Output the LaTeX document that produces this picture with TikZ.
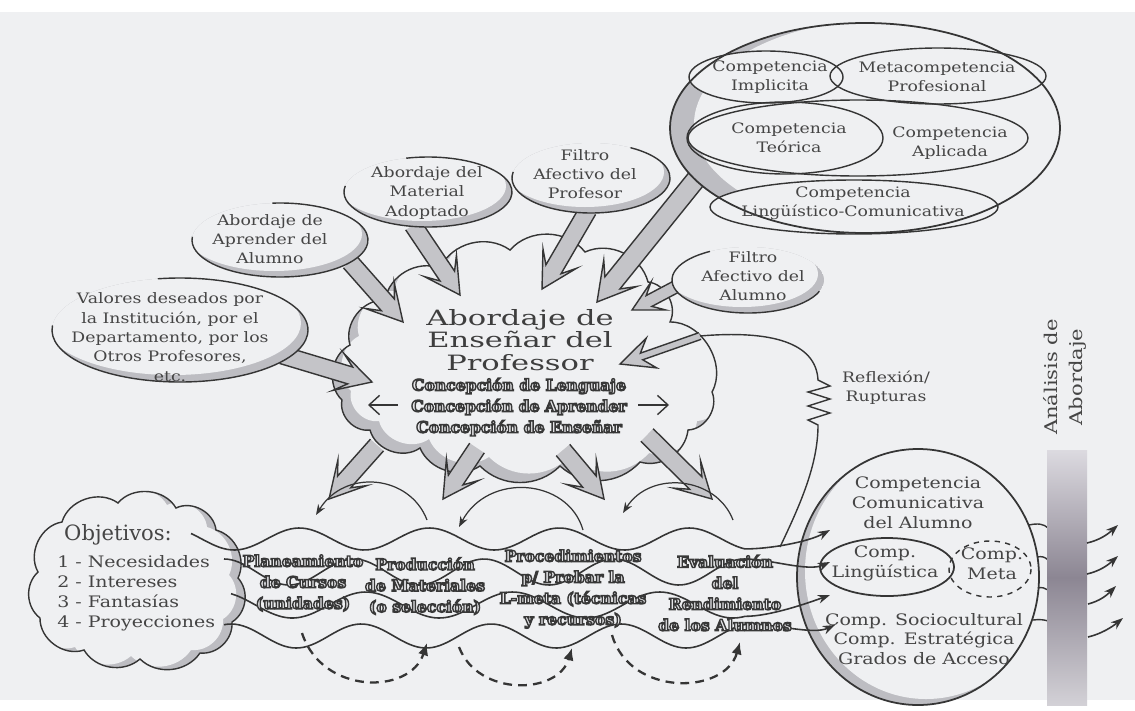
\documentclass[tikz,border=0pt]{standalone}
\usepackage{fontspec}
\setmainfont{DejaVu Serif}[FakeStretch=1.2]
\newfontfamily\titlef{DejaVu Serif}[FakeStretch=1.45]
\newfontfamily\plainf{DejaVu Serif}
\usetikzlibrary{calc,arrows.meta}
\definecolor{bgc}{HTML}{EFF0F2}
\definecolor{linec}{HTML}{353535}
\definecolor{txtc}{HTML}{454545}
\definecolor{shc}{HTML}{BDBDC2}
\definecolor{arrc}{HTML}{C4C4C8}
\definecolor{olf}{HTML}{E6E6E9}
\definecolor{barA}{HTML}{DCDAE0}
\definecolor{barB}{HTML}{8C8693}

% outlined text: fill light, stroke dark (PDF text render mode 2)
\newcommand{\otxt}[1]{{\color{olf}\special{pdf:literal direct 2 Tr 0.8 w 0.22 0.22 0.22 RG}#1\special{pdf:literal direct 0 Tr}}}

% tail, tip, shaft half width, head half width, head length, join length
\newcommand{\fatarrow}[6]{%
 \coordinate (fw) at ($(#2)!#5!(#1)$);
 \coordinate (fj) at ($(#2)!#6!(#1)$);
 \fill[arrc] ($(#1)!#3!90:(#2)$) -- ($(fj)!#3!90:(#2)$) -- ($(fw)!#4!90:(#2)$) -- (#2) -- ($(fw)!#4!-90:(#2)$) -- ($(fj)!#3!-90:(#2)$) -- ($(#1)!#3!-90:(#2)$) -- cycle;
 \draw[linec, line width=0.8pt, line join=miter] ($(#1)!#3!90:(#2)$) -- ($(fj)!#3!90:(#2)$) -- ($(fw)!#4!90:(#2)$) -- (#2) -- ($(fw)!#4!-90:(#2)$) -- ($(fj)!#3!-90:(#2)$) -- ($(#1)!#3!-90:(#2)$);
}
% center, rx, ry, shift, start, end
\newcommand{\bubble}[6]{%
 \begin{scope}
  \clip (#1) ellipse [x radius=#2, y radius=#3];
  \fill[shc] (#1) ellipse [x radius=#2, y radius=#3];
  \fill[bgc] ($(#1)+(#4)$) ellipse [x radius=#2, y radius=#3];
 \end{scope}
 \draw[linec, line width=0.8pt] ($(#1)+(#5:#2 and #3)$) arc [start angle=#5, end angle=#6, x radius=#2, y radius=#3];
}
\newcommand{\cloudA}{(342,400) to[bend left=55] (350,345) to[bend left=55] (385,300) to[bend left=50] (440,268) to[bend left=50] (510,250) to[bend left=50] (585,252) to[bend left=50] (648,282) to[bend left=55] (670,322) to[bend left=60] (712,392) to[bend left=55] (688,430) to[bend left=50] (640,462) to[bend left=45] (560,466) to[bend left=45] (480,466) to[bend left=50] (420,448) to[bend left=55] (370,430) to[bend left=55] (342,400) -- cycle}
\newcommand{\cloudB}{(38,572) to[bend left=55] (62,522) to[bend left=55] (118,503) to[bend left=55] (176,508) to[bend left=55] (216,530) to[bend left=50] (238,578) to[bend left=50] (232,622) to[bend left=50] (200,653) to[bend left=50] (140,659) to[bend left=50] (84,650) to[bend left=55] (40,618) to[bend left=50] (38,572) -- cycle}

\begin{document}
\begin{tikzpicture}[x=0.02cm,y=-0.02cm,
 line/.style={draw=linec, line width=0.8pt},
 txt/.style={font=\fontsize{8.2}{11}\selectfont, text=txtc, align=center, inner sep=0pt},
 ctxt/.style={font=\fontsize{9}{11.3}\selectfont, text=txtc, align=center, inner sep=0pt},
 otext/.style={font=\fontsize{8.9}{12}\selectfont\bfseries\plainf, align=center, inner sep=0pt},
 titletxt/.style={font=\fontsize{12}{13}\selectfont\titlef, text=txtc!90!black, align=center, inner sep=0pt},
 thinarr/.style={draw=linec, line width=0.7pt, -{Stealth[length=6pt,width=4.5pt]}},
 dasharr/.style={draw=linec, line width=1.3pt, dash pattern=on 5pt off 3.5pt, -{Latex[length=7pt,width=6pt]}},
 wavearr/.style={draw=linec, line width=0.9pt, -{Stealth[length=7pt,width=5pt]}},
 barb/.style={draw=linec, line width=0.8pt, -{Straight Barb[length=6pt,width=11pt]}}]

\useasboundingbox (0,0) rectangle (1135,710);
\fill[bgc] (0,0) rectangle (1135,710);
\fill[white] (0,0) rectangle (1135,12);
\fill[white] (0,700) rectangle (1135,710);

% ---------- central cloud ----------
\begin{scope}
 \clip \cloudA;
 \fill[shc] \cloudA;
 \begin{scope}[shift={(9,-9)}]
  \fill[bgc] \cloudA;
 \end{scope}
\end{scope}
\draw[line] \cloudA;

% ---------- arrow coordinates ----------
\coordinate (a1t) at (350,262);  \coordinate (a1p) at (403,322);
\coordinate (a2t) at (282,355);  \coordinate (a2p) at (372,382);
\coordinate (a3t) at (413,225);  \coordinate (a3p) at (460,295);
\coordinate (a4t) at (588,210);  \coordinate (a4p) at (542,289);
\coordinate (a5t) at (697,178);  \coordinate (a5p) at (597,302);
\coordinate (a6t) at (683,283);  \coordinate (a6p) at (632,310);
\coordinate (a7t) at (700,336);  \coordinate (a7p) at (620,364);

\fatarrow{a1t}{a1p}{5pt}{11pt}{20pt}{13pt}
\fatarrow{a2t}{a2p}{5pt}{11pt}{20pt}{13pt}
\fatarrow{a3t}{a3p}{5pt}{11pt}{20pt}{13pt}
\fatarrow{a4t}{a4p}{5pt}{11pt}{20pt}{13pt}
\fatarrow{a5t}{a5p}{5.5pt}{12pt}{21pt}{14pt}
\fatarrow{a6t}{a6p}{3.5pt}{9pt}{17pt}{11pt}
\fatarrow{a7t}{a7p}{2pt}{9pt}{19pt}{13pt}

% ---------- speech bubbles ----------
\coordinate (cApr) at (280,240);
\coordinate (cVal) at (180,330);
\coordinate (cMat) at (428,192);
\coordinate (cFiP) at (591,178);
\coordinate (cFiA) at (748,280);
\bubble{cApr}{88}{37}{-6,-6}{185}{-95}
\bubble{cVal}{128}{52}{-7,-7}{185}{-100}
\bubble{cMat}{84}{35}{-6,-6}{190}{-105}
\bubble{cFiP}{79}{35}{-6,-6}{190}{-60}
\bubble{cFiA}{76}{33}{-6,-6}{20}{240}

\node[txt] (tApr) at (270,239) {Abordaje de\\Aprender del\\Alumno};
\node[txt] (tVal) at (170,337) {Valores deseados por\\la Institución, por el\\Departamento, por los\\Otros Profesores,\\etc.};
\node[txt] (tMat) at (427,193) {Abordaje del\\Material\\Adoptado};
\node[txt] (tFiP) at (585,174) {Filtro\\Afectivo del\\Profesor};
\node[txt] (tFiA) at (753,276) {Filtro\\Afectivo del\\Alumno};

% ---------- competence cluster (top right) ----------
\coordinate (cOut) at (865,128);
\begin{scope}
 \clip (cOut) ellipse [x radius=195, y radius=105];
 \fill[shc] (cOut) ellipse [x radius=195, y radius=105];
 \fill[bgc] ($(cOut)+(24,-4)$) ellipse [x radius=195, y radius=105];
\end{scope}
\coordinate (cImp) at (766,77);
\coordinate (cMet) at (938,76);
\coordinate (cApl) at (858,138);
\coordinate (cTeo) at (785,138);
\coordinate (cLin) at (854,207);
\fill[bgc] (cImp) ellipse [x radius=77, y radius=26];
\fill[bgc] (cMet) ellipse [x radius=108, y radius=28];
\fill[bgc] (cApl) ellipse [x radius=170, y radius=38];
\fill[bgc] (cLin) ellipse [x radius=144, y radius=27];
\draw[line, line width=1pt] (cOut) ellipse [x radius=195, y radius=105];
\draw[line] (cImp) ellipse [x radius=77, y radius=26];
\draw[line] (cMet) ellipse [x radius=108, y radius=28];
\draw[line] (cApl) ellipse [x radius=170, y radius=38];
\draw[line] (cTeo) ellipse [x radius=98, y radius=36];
\draw[line] (cLin) ellipse [x radius=144, y radius=27];
\node[txt] (tImp) at (770,77) {Competencia\\Implicita};
\node[txt] (tMet) at (937,77) {Metacompetencia\\Profesional};
\node[txt] (tTeo) at (789,138) {Competencia\\Teórica};
\node[txt] (tApl) at (950,143) {Competencia\\Aplicada};
\node[txt] (tLin) at (853,203) {Competencia\\Lingüístico-Comunicativa};

% ---------- cloud text ----------
\node[titletxt] (title) at (520,340) {Abordaje de\\Enseñar del\\Professor};
\node[otext] (conc) at (519,407) {\otxt{Concepción de Lenguaje}\\\otxt{Concepción de Aprender}\\\otxt{Concepción de Enseñar}};
\coordinate (lA) at (398,405); \coordinate (lB) at (368,405);
\coordinate (rA) at (638,405); \coordinate (rB) at (669,405);
\draw[barb] (lA) -- (lB);
\draw[barb] (rA) -- (rB);

% ---------- downward arrows ----------
\coordinate (d1t) at (377,445);  \coordinate (d1p) at (329,499);
\coordinate (d2t) at (477,448);  \coordinate (d2p) at (443,499);
\coordinate (d3t) at (563,450);  \coordinate (d3p) at (604,499);
\coordinate (d4t) at (647,435);  \coordinate (d4p) at (712,499);
\fatarrow{d1t}{d1p}{5pt}{11pt}{20pt}{13pt}
\fatarrow{d2t}{d2p}{5pt}{11pt}{20pt}{13pt}
\fatarrow{d3t}{d3p}{5pt}{11pt}{20pt}{13pt}
\fatarrow{d4t}{d4p}{5pt}{11pt}{20pt}{13pt}

% ---------- right competence circle ----------
\coordinate (cCir) at (918,577);
\begin{scope}
 \clip (cCir) ellipse [x radius=121, y radius=128];
 \fill[shc] (cCir) ellipse [x radius=121, y radius=128];
 \fill[bgc] ($(cCir)+(8,-6)$) ellipse [x radius=121, y radius=128];
\end{scope}
\draw[line, line width=1pt] (cCir) ellipse [x radius=121, y radius=128];
\coordinate (cLg) at (887,567);
\coordinate (cMt) at (990,569);
\draw[line, line width=1pt] (cLg) ellipse [x radius=67, y radius=29];
\draw[line, dashed] (cMt) ellipse [x radius=41, y radius=28];
\node[ctxt] (tCC) at (918,503) {Competencia\\Comunicativa\\del Alumno};
\node[ctxt] (tLg) at (885,563) {Comp.\\Lingüística};
\node[ctxt] (tMt) at (992,564) {Comp.\\Meta};
\node[ctxt] (tSC) at (924,639) {Comp. Sociocultural\\Comp. Estratégica\\Grados de Acceso};

% ---------- Objetivos cloud ----------
\begin{scope}
 \clip \cloudB;
 \fill[shc] \cloudB;
 \begin{scope}[shift={(-9,-3)}]
  \fill[bgc] \cloudB;
 \end{scope}
\end{scope}
\draw[line] \cloudB;
\node[font=\fontsize{12}{13}\selectfont\plainf, text=txtc, inner sep=0pt] (obj) at (118,535) {Objetivos:};
\node[font=\fontsize{9}{11.3}\selectfont, text=txtc, align=left, inner sep=0pt, anchor=west] (items) at (57,593) {1 - Necesidades\\2 - Intereses\\3 - Fantasías\\4 - Proyecciones};

% ---------- waves ----------
\coordinate (w1e) at (830,530);
\coordinate (w2e) at (830,562);
\coordinate (w3e) at (830,595);
\coordinate (w4e) at (835,625);
\draw[wavearr] plot[domain=191:745, samples=140, smooth] (\x,{539+11*sin(2.77*(\x-191)-30)}) .. controls +(25,0) and +(-22,12) .. (w1e);
\draw[wavearr] plot[domain=224:745, samples=140, smooth] (\x,{572+13*sin(2.77*(\x-224)-90)}) .. controls +(25,0) and +(-22,10) .. (w2e);
\draw[wavearr] plot[domain=231:745, samples=140, smooth] (\x,{605+13*sin(2.45*(\x-231)-60)}) .. controls +(25,0) and +(-22,8) .. (w3e);
\draw[wavearr] plot[domain=224:750, samples=140, smooth] (\x,{636+12*sin(2.77*(\x-224)-110)}) .. controls +(25,0) and +(-22,10) .. (w4e);

\node[otext] (tPl) at (303,583) {\otxt{Planeamiento}\\\otxt{de Cursos}\\\otxt{(unidades)}};
\node[otext] (tPr) at (425,586) {\otxt{Producción}\\\otxt{de Materiales}\\\otxt{(o selección)}};
\node[otext] (tPc) at (573,589) {\otxt{Procedimientos}\\\otxt{p/ Probar la}\\\otxt{L-meta (técnicas}\\\otxt{y recursos)}};
\node[otext] (tEv) at (725,593) {\otxt{Evaluación}\\\otxt{del}\\\otxt{Rendimiento}\\\otxt{de los Alumnos}};

% thin arcs above the band
\coordinate (r1s) at (427,520); \coordinate (r1e) at (316,515);
\coordinate (r2s) at (583,530); \coordinate (r2e) at (459,527);
\coordinate (r3s) at (733,520); \coordinate (r3e) at (623,513);
\draw[thinarr] (r1s) .. controls (410,475) and (345,468) .. (r1e);
\draw[thinarr] (r2s) .. controls (568,478) and (488,472) .. (r2e);
\draw[thinarr] (r3s) .. controls (716,476) and (650,470) .. (r3e);

% dashed arcs below the band
\coordinate (q1s) at (302,633); \coordinate (q1e) at (427,643);
\coordinate (q2s) at (459,647); \coordinate (q2e) at (572,648);
\coordinate (q3s) at (612,635); \coordinate (q3e) at (740,642);
\draw[dasharr] (q1s) .. controls (322,695) and (410,695) .. (q1e);
\draw[dasharr] (q2s) .. controls (478,697) and (558,695) .. (q2e);
\draw[dasharr] (q3s) .. controls (630,697) and (725,695) .. (q3e);

% ---------- Reflexion / Rupturas ----------
\coordinate (rfA) at (780,547);
\coordinate (rfB) at (818,425);
\coordinate (rfC) at (818,380);
\draw[line] (rfA) .. controls (800,505) and (818,465) .. (rfB) -- (808,420) -- (830,413) -- (808,406) -- (830,399) -- (808,392) -- (830,386) -- (rfC) .. controls (816,342) and (770,330) .. (a7t);
\node[txt] (tRf) at (886,388) {Reflexión/\\Rupturas};

% ---------- bar and outgoing arrows ----------
\coordinate (s1a) at (1029,525); \coordinate (s1b) at (1048,528);
\coordinate (s2a) at (1037,557); \coordinate (s2b) at (1048,560);
\coordinate (s3a) at (1038,588); \coordinate (s3b) at (1048,590);
\coordinate (s4a) at (1033,620); \coordinate (s4b) at (1048,621);
\draw[line] (s1a) .. controls (1038,523) and (1044,524) .. (s1b);
\draw[line] (s2a) .. controls (1042,556) and (1045,557) .. (s2b);
\draw[line] (s3a) .. controls (1042,587) and (1045,588) .. (s3b);
\draw[line] (s4a) .. controls (1040,619) and (1045,620) .. (s4b);
\shade[top color=barA, bottom color=barA!90!gray, middle color=barB] (1047,450) rectangle (1087,705);
\coordinate (o1a) at (1087,543); \coordinate (o1b) at (1118,525);
\coordinate (o2a) at (1087,574); \coordinate (o2b) at (1118,556);
\coordinate (o3a) at (1088,604); \coordinate (o3b) at (1116,586);
\coordinate (o4a) at (1088,637); \coordinate (o4b) at (1123,618);
\draw[wavearr] (o1a) .. controls (1100,540) and (1108,534) .. (o1b);
\draw[wavearr] (o2a) .. controls (1100,571) and (1108,565) .. (o2b);
\draw[wavearr] (o3a) .. controls (1100,601) and (1107,595) .. (o3b);
\draw[wavearr] (o4a) .. controls (1101,634) and (1112,627) .. (o4b);
\node[font=\fontsize{10}{14}\selectfont, text=txtc, align=center, inner sep=0pt, rotate=90] (tAn) at (1065,377) {Análisis de\\Abordaje};

\end{tikzpicture}
\end{document}
